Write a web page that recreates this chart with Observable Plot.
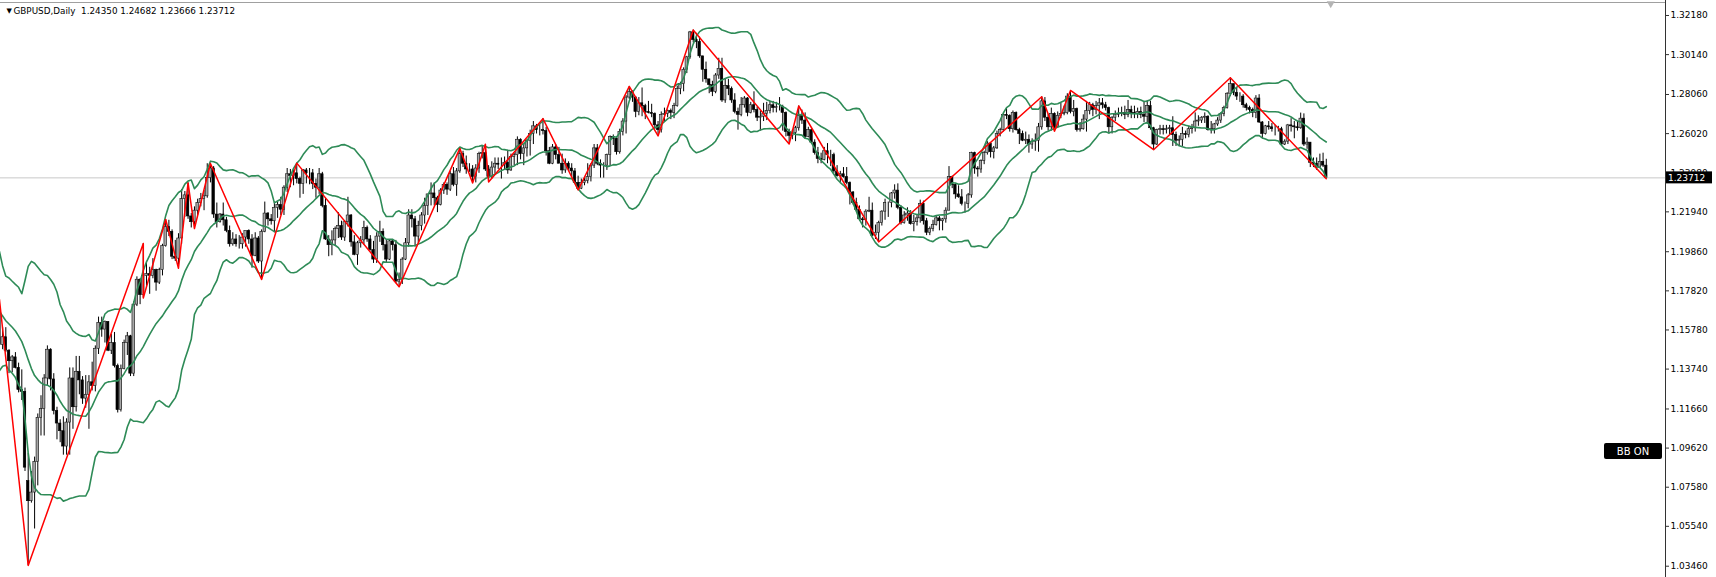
<!DOCTYPE html>
<html><head><meta charset="utf-8">
<script src="https://cdn.jsdelivr.net/npm/d3@7"></script>
<script src="https://cdn.jsdelivr.net/npm/@observablehq/plot@0.6"></script>
<style>html,body{margin:0;padding:0;background:#fff}svg{display:block}</style>
</head><body><div id="chart"></div>
<script>
// ---- data: GBPUSD daily, Aug 2022 – 19 Apr 2024 ----
const symbolName = "GBPUSD,Daily";
// closes before the first visible bar (only used by the Bollinger Bands)
const preCloses = [1.2100,1.2060,1.1955,1.1765,1.1770,1.1765,1.1800,1.1830,1.1735,1.1690,1.1660,1.1620,1.1540,1.1510,1.1520,1.1510,1.1530,1.1505,1.1585,1.1680];

const opens = [
// Sep 2022
1.1680,1.1500,1.1540,1.1470,1.1415,1.1435,1.1380,1.1265,1.1255,1.0790,1.0685,1.0730,1.0890,1.1120,
// Oct
1.1165,1.1325,1.1475,1.1320,1.1155,1.1090,1.1050,1.0970,1.1095,1.1325,1.1175,1.1360,1.1315,1.1220,1.1240,1.1305,1.1285,1.1480,1.1615,1.1580,1.1620,
// Nov
1.1470,1.1510,1.1390,1.1160,1.1375,1.1510,1.1545,1.1350,1.1710,1.1840,1.1760,1.1860,1.1870,1.1860,1.1890,1.1825,1.1890,1.2015,1.2115,1.2090,1.1960,1.1950,
// Dec
1.2055,1.2260,1.2280,1.2170,1.2140,1.2200,1.2240,1.2260,1.2275,1.2370,1.2420,1.2180,1.2140,1.2180,1.2150,1.2095,1.2025,1.2050,1.2025,1.2025,1.2060,
// Jan 2023
1.2095,1.2050,1.1965,1.2055,1.1935,1.2090,1.2185,1.2155,1.2145,1.2215,1.2230,1.2205,1.2320,1.2390,1.2380,1.2395,1.2365,1.2340,1.2410,1.2395,1.2395,1.2340,
// Feb
1.2320,1.2390,1.2225,1.2050,1.2020,1.2045,1.2105,1.2120,1.2060,1.2140,1.2175,1.2035,1.1970,1.2030,1.2045,1.2110,1.2050,1.1995,1.1945,1.2065,
// Mar
1.2090,1.2020,1.1945,1.2040,1.2020,1.1830,1.1840,1.1945,1.2030,1.2175,1.2155,1.2065,1.2120,1.2175,1.2225,1.2285,1.2290,1.2265,1.2230,1.2305,1.2335,1.2310,1.2390,
// Apr
1.2335,1.2405,1.2495,1.2445,1.2415,1.2415,1.2375,1.2420,1.2495,1.2500,1.2415,1.2375,1.2425,1.2445,1.2440,1.2440,1.2450,1.2410,1.2480,1.2490,
// May
1.2570,1.2495,1.2525,1.2565,1.2600,1.2640,1.2620,1.2620,1.2615,1.2510,1.2445,1.2530,1.2490,1.2445,1.2410,1.2445,1.2420,1.2405,1.2345,1.2315,1.2345,1.2355,1.2375,
// Jun
1.2435,1.2525,1.2445,1.2435,1.2435,1.2490,1.2585,1.2575,1.2505,1.2610,1.2665,1.2790,1.2820,1.2790,1.2715,1.2760,1.2745,1.2715,1.2710,1.2705,1.2645,1.2620,
// Jul
1.2700,1.2705,1.2720,1.2710,1.2745,1.2835,1.2860,1.2935,1.3000,1.3130,1.3090,1.3080,1.3005,1.2935,1.2885,1.2855,1.2820,1.2905,1.2940,1.2775,1.2850,
// Aug
1.2835,1.2775,1.2715,1.2700,1.2750,1.2785,1.2710,1.2750,1.2725,1.2685,1.2690,1.2705,1.2720,1.2750,1.2735,1.2740,1.2740,1.2710,1.2610,1.2590,1.2605,1.2630,1.2695,
// Sep
1.2670,1.2585,1.2620,1.2555,1.2500,1.2470,1.2465,1.2510,1.2490,1.2490,1.2405,1.2380,1.2390,1.2375,1.2345,1.2295,1.2240,1.2205,1.2155,1.2150,1.2195,
// Oct
1.2200,1.2070,1.2085,1.2135,1.2195,1.2240,1.2240,1.2290,1.2305,1.2215,1.2135,1.2175,1.2185,1.2130,1.2140,1.2160,1.2235,1.2145,1.2085,1.2105,1.2125,1.2160,
// Nov
1.2145,1.2155,1.2200,1.2375,1.2335,1.2285,1.2270,1.2235,1.2235,1.2280,1.2500,1.2420,1.2415,1.2460,1.2500,1.2550,1.2505,1.2525,1.2600,1.2620,1.2700,1.2695,
// Dec
1.2625,1.2710,1.2620,1.2600,1.2565,1.2570,1.2545,1.2560,1.2565,1.2635,1.2770,1.2685,1.2635,1.2705,1.2635,1.2695,1.2705,1.2710,1.2795,1.2715,
// Jan 2024
1.2730,1.2620,1.2625,1.2675,1.2720,1.2750,1.2725,1.2745,1.2760,1.2750,1.2735,1.2635,1.2685,1.2700,1.2705,1.2710,1.2700,1.2725,1.2710,1.2705,1.2715,1.2700,
// Feb
1.2690,1.2745,1.2630,1.2545,1.2620,1.2625,1.2620,1.2625,1.2630,1.2595,1.2565,1.2570,1.2600,1.2595,1.2625,1.2630,1.2665,1.2670,1.2685,1.2690,1.2620,
// Mar
1.2625,1.2650,1.2670,1.2705,1.2735,1.2810,1.2860,1.2815,1.2795,1.2795,1.2750,1.2735,1.2725,1.2710,1.2785,1.2660,1.2600,1.2640,1.2635,1.2625,1.2625,
// Apr
1.2625,1.2545,1.2560,1.2645,1.2640,1.2635,1.2630,1.2680,1.2545,1.2555,1.2450,1.2445,1.2425,1.2455,1.24350];

const highs = [
1.1738,1.1590,1.1590,1.1475,1.1445,1.1460,1.1405,1.1370,1.1275,1.0935,1.0840,1.0915,1.1140,1.1235,
1.1345,1.1495,1.1480,1.1350,1.1175,1.1110,1.1125,1.1115,1.1380,1.1380,1.1440,1.1440,1.1335,1.1340,1.1340,1.1410,1.1495,1.1645,1.1645,1.1625,1.1620,
1.1555,1.1565,1.1400,1.1395,1.1525,1.1565,1.1550,1.1725,1.1855,1.1845,1.2029,1.1935,1.1905,1.1950,1.1895,1.1900,1.2025,1.2154,1.2150,1.2100,1.2045,1.2080,
1.2310,1.2300,1.2345,1.2185,1.2220,1.2260,1.2290,1.2305,1.2445,1.2446,1.2430,1.2240,1.2185,1.2240,1.2165,1.2120,1.2085,1.2075,1.2070,1.2080,1.2085,
1.2100,1.2075,1.2085,1.2065,1.2100,1.2245,1.2190,1.2180,1.2245,1.2245,1.2270,1.2330,1.2420,1.2415,1.2410,1.2448,1.2375,1.2415,1.2420,1.2420,1.2415,1.2365,
1.2420,1.2400,1.2265,1.2070,1.2095,1.2115,1.2190,1.2145,1.2145,1.2270,1.2180,1.2070,1.2040,1.2065,1.2145,1.2120,1.2070,1.2040,1.2085,1.2145,
1.2105,1.2045,1.2045,1.2050,1.2045,1.1875,1.1955,1.2055,1.2205,1.2205,1.2170,1.2145,1.2190,1.2265,1.2285,1.2345,1.2345,1.2275,1.2315,1.2345,1.2345,1.2405,1.2425,
1.2420,1.2525,1.2510,1.2485,1.2445,1.2435,1.2440,1.2505,1.2535,1.2546,1.2435,1.2455,1.2475,1.2475,1.2475,1.2480,1.2515,1.2495,1.2500,1.2585,
1.2575,1.2545,1.2570,1.2620,1.2665,1.2650,1.2650,1.2680,1.2635,1.2530,1.2545,1.2545,1.2530,1.2495,1.2470,1.2455,1.2445,1.2420,1.2380,1.2365,1.2370,1.2445,1.2445,
1.2545,1.2545,1.2465,1.2450,1.2495,1.2590,1.2595,1.2585,1.2625,1.2680,1.2800,1.2848,1.2825,1.2795,1.2790,1.2840,1.2755,1.2770,1.2755,1.2710,1.2665,1.2715,
1.2735,1.2725,1.2730,1.2760,1.2850,1.2870,1.2945,1.3005,1.3135,1.3142,1.3125,1.3105,1.3005,1.2975,1.2885,1.2875,1.2915,1.2995,1.2995,1.2885,1.2885,
1.2845,1.2810,1.2735,1.2790,1.2795,1.2790,1.2765,1.2820,1.2740,1.2720,1.2760,1.2765,1.2770,1.2770,1.2765,1.2790,1.2750,1.2715,1.2625,1.2620,1.2640,1.2746,1.2725,
1.2710,1.2635,1.2625,1.2570,1.2530,1.2500,1.2530,1.2550,1.2515,1.2500,1.2435,1.2405,1.2425,1.2425,1.2350,1.2300,1.2265,1.2225,1.2165,1.2205,1.2270,
1.2240,1.2125,1.2145,1.2200,1.2260,1.2245,1.2295,1.2335,1.2340,1.2225,1.2195,1.2215,1.2200,1.2175,1.2180,1.2255,1.2250,1.2160,1.2115,1.2150,1.2175,1.2170,
1.2160,1.2215,1.2430,1.2380,1.2340,1.2330,1.2310,1.2245,1.2290,1.2505,1.2505,1.2430,1.2465,1.2510,1.2560,1.2555,1.2535,1.2615,1.2630,1.2705,1.2733,1.2700,
1.2720,1.2715,1.2630,1.2615,1.2610,1.2595,1.2575,1.2600,1.2655,1.2794,1.2790,1.2700,1.2735,1.2710,1.2715,1.2760,1.2745,1.2810,1.2827,1.2775,
1.2735,1.2660,1.2700,1.2770,1.2765,1.2760,1.2770,1.2785,1.2785,1.2765,1.2740,1.2690,1.2720,1.2735,1.2740,1.2745,1.2775,1.2745,1.2745,1.2735,1.2740,1.2770,
1.2775,1.2770,1.2635,1.2625,1.2645,1.2645,1.2645,1.2645,1.2690,1.2610,1.2590,1.2635,1.2615,1.2640,1.2650,1.2710,1.2695,1.2690,1.2710,1.2695,1.2665,
1.2655,1.2685,1.2710,1.2745,1.2815,1.2893,1.2860,1.2840,1.2815,1.2805,1.2760,1.2745,1.2735,1.2800,1.2805,1.2665,1.2645,1.2665,1.2655,1.2645,1.2640,
1.2635,1.2570,1.2650,1.2680,1.2665,1.2665,1.2709,1.2705,1.2580,1.2555,1.2475,1.2475,1.2495,1.2500,1.24682];

const lows = [
1.1480,1.1475,1.1460,1.1350,1.1355,1.1375,1.1250,1.1210,1.0840,1.0350,1.0675,1.0540,1.0765,1.1025,
1.1025,1.1285,1.1260,1.1135,1.1005,1.0990,1.0925,1.0925,1.0925,1.1060,1.1150,1.1240,1.1190,1.1170,1.1060,1.1260,1.1255,1.1450,1.1540,1.1510,1.1465,
1.1450,1.1380,1.1145,1.1150,1.1370,1.1445,1.1335,1.1335,1.1700,1.1710,1.1745,1.1805,1.1764,1.1845,1.1780,1.1815,1.1860,1.2010,1.2065,1.1945,1.1935,1.1900,
1.2025,1.2165,1.2155,1.2110,1.2107,1.2175,1.2220,1.2200,1.2265,1.2345,1.2160,1.2110,1.2135,1.2120,1.2085,1.2010,1.2015,1.2010,1.2000,1.2000,1.2010,
1.2025,1.1900,1.1960,1.1925,1.1841,1.2085,1.2120,1.2125,1.2085,1.2160,1.2175,1.2175,1.2295,1.2320,1.2330,1.2340,1.2265,1.2285,1.2340,1.2335,1.2310,1.2265,
1.2285,1.2215,1.2045,1.1960,1.1965,1.2015,1.2055,1.2045,1.2040,1.2115,1.2010,1.1965,1.1915,1.2005,1.2020,1.2035,1.1990,1.1925,1.1925,1.2035,
1.1990,1.1925,1.1940,1.1990,1.1820,1.1803,1.1815,1.1940,1.2010,1.2110,1.2010,1.2030,1.2095,1.2130,1.2175,1.2225,1.2225,1.2190,1.2225,1.2285,1.2280,1.2300,1.2325,
1.2275,1.2395,1.2425,1.2390,1.2400,1.2345,1.2345,1.2395,1.2470,1.2405,1.2350,1.2365,1.2390,1.2415,1.2365,1.2410,1.2390,1.2405,1.2435,1.2435,
1.2465,1.2435,1.2480,1.2485,1.2545,1.2600,1.2590,1.2595,1.2485,1.2440,1.2440,1.2465,1.2445,1.2390,1.2395,1.2410,1.2375,1.2340,1.2308,1.2310,1.2330,1.2340,1.2350,
1.2420,1.2435,1.2370,1.2370,1.2410,1.2435,1.2540,1.2490,1.2495,1.2590,1.2600,1.2780,1.2765,1.2685,1.2695,1.2690,1.2675,1.2705,1.2685,1.2625,1.2590,1.2605,
1.2665,1.2685,1.2675,1.2680,1.2740,1.2805,1.2820,1.2915,1.2990,1.3075,1.3045,1.2995,1.2870,1.2865,1.2810,1.2795,1.2810,1.2885,1.2765,1.2760,1.2800,
1.2760,1.2705,1.2620,1.2690,1.2735,1.2690,1.2705,1.2710,1.2665,1.2615,1.2665,1.2670,1.2705,1.2710,1.2710,1.2720,1.2615,1.2585,1.2548,1.2570,1.2560,1.2615,1.2650,
1.2575,1.2580,1.2545,1.2490,1.2445,1.2445,1.2460,1.2445,1.2430,1.2395,1.2375,1.2345,1.2370,1.2335,1.2230,1.2230,1.2195,1.2145,1.2110,1.2120,1.2190,
1.2065,1.2050,1.2037,1.2120,1.2150,1.2165,1.2215,1.2260,1.2205,1.2125,1.2130,1.2145,1.2125,1.2090,1.2120,1.2135,1.2125,1.2070,1.2070,1.2090,1.2120,1.2095,
1.2095,1.2135,1.2200,1.2315,1.2260,1.2265,1.2225,1.2187,1.2210,1.2265,1.2390,1.2375,1.2395,1.2440,1.2490,1.2475,1.2470,1.2520,1.2585,1.2610,1.2675,1.2610,
1.2605,1.2615,1.2545,1.2560,1.2545,1.2500,1.2520,1.2510,1.2505,1.2620,1.2665,1.2615,1.2615,1.2615,1.2630,1.2680,1.2695,1.2700,1.2705,1.2690,
1.2610,1.2610,1.2620,1.2610,1.2700,1.2690,1.2700,1.2675,1.2730,1.2720,1.2600,1.2600,1.2665,1.2685,1.2690,1.2675,1.2685,1.2680,1.2680,1.2680,1.2680,1.2660,
1.2650,1.2620,1.2518,1.2540,1.2595,1.2595,1.2600,1.2595,1.2535,1.2535,1.2535,1.2535,1.2575,1.2580,1.2600,1.2610,1.2640,1.2655,1.2655,1.2615,1.2600,
1.2600,1.2640,1.2655,1.2690,1.2730,1.2795,1.2800,1.2775,1.2765,1.2735,1.2720,1.2705,1.2685,1.2680,1.2655,1.2575,1.2595,1.2620,1.2610,1.2590,1.2610,
1.2540,1.2540,1.2545,1.2610,1.2575,1.2615,1.2625,1.2535,1.2520,1.2425,1.2425,1.2410,1.2425,1.2425,1.23666];

const closes = [
1.1500,1.1540,1.1470,1.1415,1.1435,1.1380,1.1265,1.1255,1.0860,1.0685,1.0730,1.0890,1.1120,1.1165,
1.1325,1.1475,1.1320,1.1155,1.1090,1.1050,1.0970,1.1095,1.1325,1.1175,1.1360,1.1315,1.1220,1.1240,1.1305,1.1285,1.1480,1.1615,1.1580,1.1620,1.1470,
1.1510,1.1390,1.1160,1.1375,1.1510,1.1545,1.1350,1.1710,1.1840,1.1760,1.1860,1.1870,1.1860,1.1890,1.1825,1.1890,1.2015,1.2115,1.2090,1.1960,1.1950,1.2055,
1.2260,1.2280,1.2170,1.2140,1.2200,1.2240,1.2260,1.2275,1.2370,1.2420,1.2180,1.2140,1.2180,1.2150,1.2095,1.2025,1.2050,1.2025,1.2025,1.2060,1.2095,
1.2050,1.1965,1.2055,1.1935,1.2090,1.2185,1.2155,1.2145,1.2215,1.2230,1.2205,1.2320,1.2390,1.2380,1.2395,1.2365,1.2340,1.2410,1.2395,1.2395,1.2340,1.2320,
1.2390,1.2225,1.2050,1.2020,1.2045,1.2105,1.2120,1.2060,1.2140,1.2175,1.2035,1.1970,1.2030,1.2045,1.2110,1.2050,1.1995,1.1945,1.2065,1.2090,
1.2020,1.1945,1.2040,1.2020,1.1830,1.1840,1.1945,1.2030,1.2175,1.2155,1.2065,1.2120,1.2175,1.2225,1.2285,1.2290,1.2265,1.2230,1.2305,1.2335,1.2310,1.2390,1.2335,
1.2405,1.2495,1.2445,1.2415,1.2415,1.2375,1.2420,1.2495,1.2500,1.2415,1.2375,1.2425,1.2445,1.2440,1.2440,1.2450,1.2410,1.2480,1.2490,1.2570,
1.2495,1.2525,1.2565,1.2600,1.2640,1.2620,1.2620,1.2615,1.2510,1.2445,1.2530,1.2490,1.2445,1.2410,1.2445,1.2420,1.2405,1.2345,1.2315,1.2345,1.2355,1.2375,1.2435,
1.2525,1.2445,1.2435,1.2435,1.2490,1.2585,1.2575,1.2505,1.2610,1.2665,1.2790,1.2820,1.2790,1.2715,1.2760,1.2745,1.2715,1.2710,1.2705,1.2645,1.2620,1.2700,
1.2705,1.2720,1.2710,1.2745,1.2835,1.2860,1.2935,1.3000,1.3130,1.3090,1.3080,1.3005,1.2935,1.2885,1.2855,1.2820,1.2905,1.2940,1.2775,1.2850,1.2835,
1.2775,1.2715,1.2700,1.2750,1.2785,1.2710,1.2750,1.2725,1.2685,1.2690,1.2705,1.2720,1.2750,1.2735,1.2740,1.2740,1.2710,1.2610,1.2590,1.2605,1.2630,1.2695,1.2670,
1.2585,1.2620,1.2555,1.2500,1.2470,1.2465,1.2510,1.2490,1.2490,1.2405,1.2380,1.2390,1.2375,1.2345,1.2295,1.2240,1.2205,1.2155,1.2150,1.2195,1.2200,
1.2070,1.2085,1.2135,1.2195,1.2240,1.2240,1.2290,1.2305,1.2215,1.2135,1.2175,1.2185,1.2130,1.2140,1.2160,1.2235,1.2145,1.2085,1.2105,1.2125,1.2160,1.2145,
1.2155,1.2200,1.2375,1.2335,1.2285,1.2270,1.2235,1.2235,1.2280,1.2500,1.2420,1.2415,1.2460,1.2500,1.2550,1.2505,1.2525,1.2600,1.2620,1.2700,1.2695,1.2625,
1.2710,1.2620,1.2600,1.2565,1.2570,1.2545,1.2560,1.2565,1.2635,1.2770,1.2685,1.2635,1.2705,1.2635,1.2695,1.2705,1.2710,1.2795,1.2715,1.2730,
1.2620,1.2625,1.2675,1.2720,1.2750,1.2725,1.2745,1.2760,1.2750,1.2735,1.2635,1.2685,1.2700,1.2705,1.2710,1.2700,1.2725,1.2710,1.2705,1.2715,1.2700,1.2690,
1.2745,1.2630,1.2545,1.2620,1.2625,1.2620,1.2625,1.2630,1.2595,1.2565,1.2570,1.2600,1.2595,1.2625,1.2630,1.2665,1.2670,1.2685,1.2690,1.2620,1.2625,
1.2650,1.2670,1.2705,1.2735,1.2810,1.2860,1.2815,1.2795,1.2795,1.2750,1.2735,1.2725,1.2710,1.2785,1.2660,1.2600,1.2640,1.2635,1.2625,1.2625,1.2625,
1.2545,1.2560,1.2645,1.2640,1.2635,1.2630,1.2680,1.2545,1.2555,1.2450,1.2445,1.2425,1.2455,1.2435,1.23712];

// ZigZag turning bars (bar number) and whether the turn is at the bar's high or low
const zigzagBars  = [0,9,45,45,52,56,59,61,66,82,93,125,144,148,152,153,170,181,197,206,217,247,250,275,326,330,335,361,385,415];
const zigzagSides = ["H","L","H","L","H","L","H","L","H","L","H","L","H","L","H","L","H","L","H","L","H","L","H","L","H","L","H","L","H","L"];

// price-axis tick labels as shown by the terminal
const yTicks = [1.03460,1.05540,1.07580,1.09620,1.11660,1.13740,1.15780,1.17820,1.19860,1.21940,1.23980,1.26020,1.28060,1.30140,1.32180];

// Bollinger Bands settings
const bbPeriod = 20, bbDev = 2;

// ---- build ----
const n = Math.min(opens.length, highs.length, lows.length, closes.length);
const bars = d3.range(n).map(i => ({i, o: opens[i], h: highs[i], l: lows[i], c: closes[i]}));
const allCloses = preCloses.concat(closes.slice(0, n));
const bb = bars.map(b => {
  const k = b.i + preCloses.length;
  const w = allCloses.slice(k - bbPeriod + 1, k + 1);
  const m = d3.mean(w);
  const s = Math.sqrt(d3.mean(w, v => (v - m) ** 2));
  return {i: b.i, mid: m, up: m + bbDev * s, lo: m - bbDev * s};
});
const zz = zigzagBars.map((i, j) => ({i, p: zigzagSides[j] === "H" ? highs[i] : lows[i]}));
const last = bars[n - 1];
const title = symbolName + "\u00a0\u00a0" + [last.o, last.h, last.l, last.c].map(v => v.toFixed(5)).join(" ");

const xDomain = [0.336, 521.1];
const yDomain = [1.02871, 1.32962];
const font = "'DejaVu Sans', Verdana, sans-serif";
const green = "#2e8b57";

const chart = Plot.plot({
  width: 1716, height: 577,
  marginLeft: 0, marginRight: 51, marginTop: 0, marginBottom: 0,
  style: {fontFamily: font, fontSize: "9px", background: "#fff", color: "#000", overflow: "visible"},
  x: {domain: xDomain, axis: null},
  y: {domain: yDomain, axis: null},
  marks: [
    Plot.ruleY([last.c], {stroke: "#c8c8c8", strokeWidth: 1}),
    Plot.ruleX(bars, {x: "i", y1: "l", y2: "h", stroke: "#000", strokeWidth: 1, clip: true}),
    Plot.rect(bars.filter(d => d.c >= d.o), {x1: d => d.i - 0.39, x2: d => d.i + 0.39, y1: "o", y2: "c", fill: "#a6a6a6", stroke: "#111", strokeWidth: 0.6, clip: true}),
    Plot.rect(bars.filter(d => d.c < d.o), {x1: d => d.i - 0.39, x2: d => d.i + 0.39, y1: "o", y2: "c", fill: "#000", stroke: "#000", strokeWidth: 0.6, clip: true}),
    Plot.line(bb, {x: "i", y: "up", stroke: green, strokeWidth: 1.6, clip: true}),
    Plot.line(bb, {x: "i", y: "mid", stroke: green, strokeWidth: 1.6, clip: true}),
    Plot.line(bb, {x: "i", y: "lo", stroke: green, strokeWidth: 1.6, clip: true}),
    Plot.line(zz, {x: "i", y: "p", stroke: "#ff0000", strokeWidth: 1.5, clip: true}),
    Plot.ruleY([yDomain[1]], {stroke: "#a0a0a0", strokeWidth: 1, dy: 2}),
    Plot.ruleX([xDomain[1]], {stroke: "#333", strokeWidth: 1}),
    Plot.axisY({anchor: "right", ticks: yTicks, tickFormat: d => d.toFixed(5), tickSize: 3, tickPadding: 2, stroke: "#333", fill: "#000", fontSize: 9}),
    Plot.dot([n - 1], {x: d => d + 1.4, frameAnchor: "top", dy: 3, symbol: "triangle", rotate: 180, r: 3, fill: "#b4b4b4", stroke: "none"}),
    Plot.text(["\u25bc"], {frameAnchor: "top-left", dx: 6, dy: 10, fontSize: 7, fill: "#000", lineAnchor: "middle"}),
    Plot.text([title], {frameAnchor: "top-left", dx: 13, dy: 11, textAnchor: "start", lineAnchor: "middle", fill: "#000", fontSize: 8.8})
  ]
});

// current price label on the price scale
const svg = d3.select(chart);
const yc = chart.scale("y").apply(last.c);
svg.append("rect").attr("x", 1666).attr("y", yc - 6).attr("width", 46).attr("height", 12).attr("fill", "#000");
svg.append("text").attr("x", 1668).attr("y", yc).attr("dy", "0.35em").attr("text-anchor", "start").attr("fill", "#fff")
  .attr("font-family", font).attr("font-size", 9).text(last.c.toFixed(5));
// "BB ON" indicator button
const g = svg.append("g");
g.append("rect").attr("x", 1604).attr("y", 443).attr("width", 58).attr("height", 16).attr("rx", 2).attr("fill", "#000");
g.append("text").attr("x", 1633).attr("y", 451).attr("dy", "0.35em").attr("text-anchor", "middle")
  .attr("fill", "#fff").attr("font-family", font).attr("font-size", 10).text("BB ON");

document.getElementById("chart").appendChild(chart);
</script>
</body></html>
